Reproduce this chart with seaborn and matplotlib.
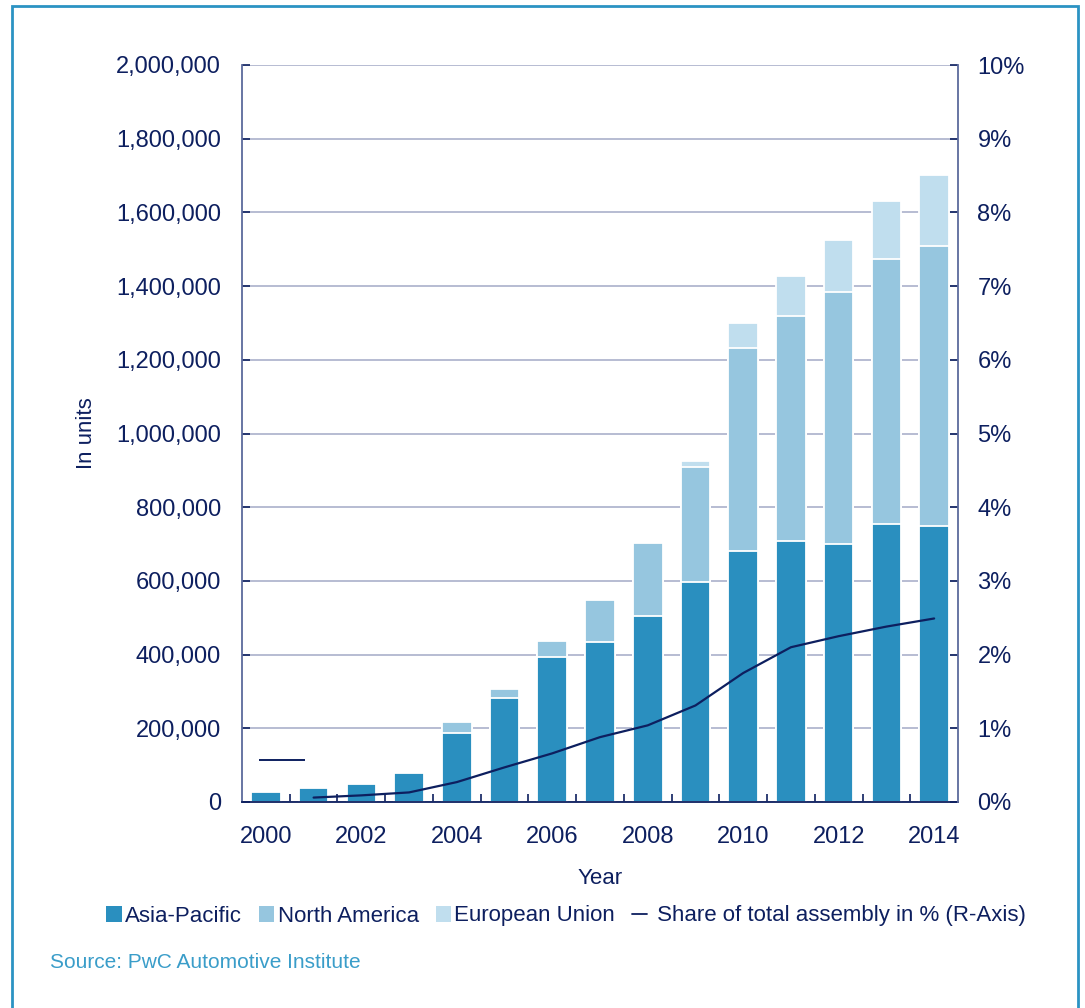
import numpy as np
import pandas as pd
import matplotlib
matplotlib.use("Agg")
import matplotlib.pyplot as plt
from matplotlib.patches import Patch, Rectangle
from matplotlib.lines import Line2D
from matplotlib.ticker import FuncFormatter, FixedLocator
from matplotlib.transforms import ScaledTranslation
import seaborn as sns

# ---- data -------------------------------------------------------------
years = [2000, 2001, 2002, 2003, 2004, 2005, 2006, 2007,
         2008, 2009, 2010, 2011, 2012, 2013, 2014]
asia_pacific = [27000, 39000, 50000, 80000, 188000, 282000, 394000, 434000,
                505000, 598000, 681000, 709000, 699000, 754000, 749000]
north_america = [0, 0, 0, 0, 28000, 26000, 43000, 115000,
                 198000, 312000, 550000, 611000, 686000, 719000, 761000]
european_union = [0, 0, 0, 0, 0, 0, 0, 0,
                  0, 16000, 68000, 108000, 140000, 158000, 191000]
share_years = [2001, 2002, 2003, 2004, 2005, 2006, 2007,
               2008, 2009, 2010, 2011, 2012, 2013, 2014]
share_pct = [0.06, 0.09, 0.13, 0.27, 0.47, 0.66, 0.88,
             1.04, 1.31, 1.75, 2.10, 2.25, 2.38, 2.49]
share_2000_mark = 0.57

x_labels = [str(y) for y in years]
left_ticks = list(range(0, 2000001, 200000))
right_ticks = list(range(0, 11))

# ---- style ------------------------------------------------------------
sns.set_theme(style="white")
plt.rcParams["font.family"] = ["Liberation Sans", "DejaVu Sans"]

NAVY = "#0d1f5f"
AP_C = "#2a8fbf"
NA_C = "#96c6df"
EU_C = "#c0deee"
GRID_C = "#aab0cb"
SPINE_C = "#5c6a9c"
SRC_C = "#3a9dc9"
FRAME_C = "#2b93c3"

W, H = 1085, 1008
fig = plt.figure(figsize=(W / 100, H / 100), dpi=100)
ax = fig.add_axes([242 / W, 1 - 802 / H, (958 - 242) / W, (802 - 65) / H])

df = pd.DataFrame({
    "year": x_labels,
    "ap": asia_pacific,
    "na": north_america,
    "eu": european_union,
})
df["ap_na"] = df["ap"] + df["na"]
df["total"] = df["ap_na"] + df["eu"]

# stacked bars: draw cumulative heights from the top layer down
bar_kw = dict(x="year", order=x_labels, width=0.62, saturation=1,
              edgecolor="white", linewidth=1.3, ax=ax)
sns.barplot(data=df, y="total", color=EU_C, **bar_kw)
sns.barplot(data=df, y="ap_na", color=NA_C, **bar_kw)
sns.barplot(data=df, y="ap", color=AP_C, **bar_kw)

ax.set_xlim(-0.5, len(years) - 0.5)
ax.set_ylim(0, 2000000)
ax.set_axisbelow(True)
ax.yaxis.set_major_locator(FixedLocator(left_ticks))
ax.yaxis.set_major_formatter(FuncFormatter(lambda v, p: f"{v:,.0f}"))
ax.grid(axis="y", color=GRID_C, linewidth=1.2)
ax.grid(axis="x", visible=False)

even_idx = list(range(0, len(years), 2))
ax.set_xticks(even_idx)
ax.set_xticklabels([x_labels[i] for i in even_idx])
ax.set_xticks(np.arange(0.5, len(years) - 1, 1.0), minor=True)
ax.tick_params(axis="x", which="major", length=0, pad=17,
               labelsize=17, labelcolor=NAVY)
ax.tick_params(axis="x", which="minor", direction="in", length=6,
               width=1.2, color=NAVY, bottom=True)
ax.tick_params(axis="y", which="major", direction="in", length=6,
               width=1.2, color=NAVY, pad=15, labelsize=17,
               labelcolor=NAVY, left=True)

ax.set_xlabel("Year", fontsize=16, color=NAVY, labelpad=15)
ax.set_ylabel("In units", fontsize=16, color=NAVY, labelpad=14)

for side in ("top", "right"):
    ax.spines[side].set_visible(False)
ax.spines["left"].set_color(SPINE_C)
ax.spines["left"].set_linewidth(1.3)
ax.spines["bottom"].set_color(NAVY)
ax.spines["bottom"].set_linewidth(1.3)

# share of total assembly on the right axis
ax2 = ax.twinx()
pos = [years.index(y) for y in share_years]
sns.lineplot(x=pos, y=share_pct, ax=ax2, color=NAVY, linewidth=1.6)
mark_shift = ScaledTranslation(0.16, 0, fig.dpi_scale_trans)
ax2.plot([years.index(2000)], [share_2000_mark], marker="_",
         markersize=33, markeredgewidth=1.4, color=NAVY, linestyle="none",
         transform=ax2.transData + mark_shift)
ax2.set_xlim(-0.5, len(years) - 0.5)
ax2.set_ylim(0, 10)
ax2.yaxis.set_major_locator(FixedLocator(right_ticks))
ax2.yaxis.set_major_formatter(FuncFormatter(lambda v, p: f"{v:.0f}%"))
ax2.grid(False)
ax2.tick_params(axis="y", which="major", direction="in", length=6,
                width=1.2, color=NAVY, pad=14, labelsize=17,
                labelcolor=NAVY, right=True)
for side in ("top", "left", "bottom"):
    ax2.spines[side].set_visible(False)
ax2.spines["right"].set_color(SPINE_C)
ax2.spines["right"].set_linewidth(1.3)
ax2.set_ylabel("")

# legend below the plot
handles = [
    Patch(facecolor=AP_C, edgecolor="none"),
    Patch(facecolor=NA_C, edgecolor="none"),
    Patch(facecolor=EU_C, edgecolor="none"),
    Line2D([], [], color=NAVY, linewidth=1.3),
]
labels = ["Asia-Pacific", "North America", "European Union",
          " Share of total assembly in % (R-Axis)"]
leg = fig.legend(handles, labels, loc="center",
                 bbox_to_anchor=(566 / W, 1 - 916 / H), ncol=4,
                 frameon=False, fontsize=16, handlelength=0.7,
                 handleheight=0.7, handletextpad=0.15, columnspacing=0.75,
                 borderaxespad=0, borderpad=0)
for t in leg.get_texts():
    t.set_color(NAVY)

fig.text(50 / W, 1 - 962 / H, "Source: PwC Automotive Institute",
         fontsize=15, color=SRC_C, ha="left", va="center")

# outer frame
fig.add_artist(Rectangle((12 / W, -0.05), (1078 - 12) / W, 1 - 6 / H + 0.05,
                         transform=fig.transFigure, fill=False,
                         edgecolor=FRAME_C, linewidth=2.0))

fig.savefig("out.png", dpi=100)
